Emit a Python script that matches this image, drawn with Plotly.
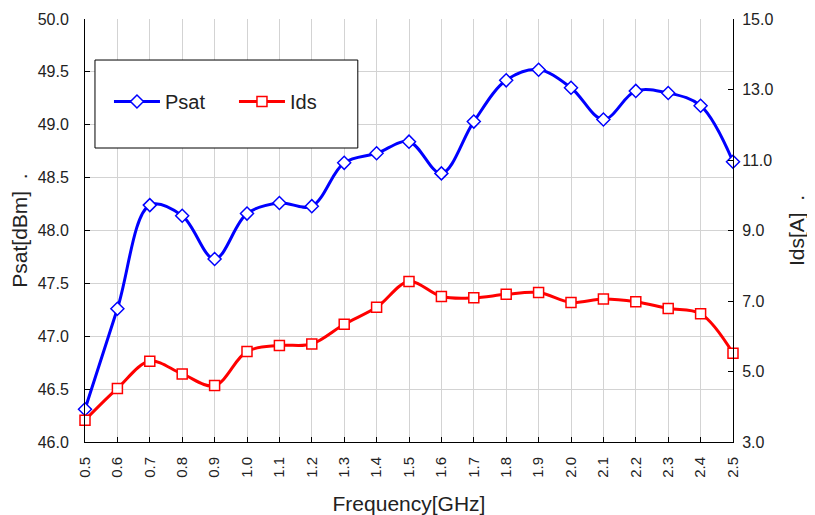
import plotly.graph_objects as go

freq = [0.5, 0.6, 0.7, 0.8, 0.9, 1.0, 1.1, 1.2, 1.3, 1.4, 1.5, 1.6, 1.7, 1.8, 1.9, 2.0, 2.1, 2.2, 2.3, 2.4, 2.5]
freq_labels = ["0.5", "0.6", "0.7", "0.8", "0.9", "1.0", "1.1", "1.2", "1.3", "1.4", "1.5",
               "1.6", "1.7", "1.8", "1.9", "2.0", "2.1", "2.2", "2.3", "2.4", "2.5"]
psat = [46.31, 47.26, 48.24, 48.14, 47.73, 48.16, 48.26, 48.23, 48.64, 48.73, 48.84,
        48.54, 49.03, 49.42, 49.52, 49.35, 49.05, 49.32, 49.30, 49.18, 48.65]
ids = [3.62, 4.52, 5.29, 4.93, 4.60, 5.57, 5.74, 5.78, 6.34, 6.82, 7.55,
       7.13, 7.09, 7.19, 7.24, 6.96, 7.06, 6.98, 6.79, 6.64, 5.52]
left_ticks = [46.0, 46.5, 47.0, 47.5, 48.0, 48.5, 49.0, 49.5, 50.0]
right_ticks = [3.0, 5.0, 7.0, 9.0, 11.0, 13.0, 15.0]

FONT = "Liberation Sans"

fig = go.Figure()
fig.add_trace(go.Scatter(
    x=freq, y=psat, name="Psat", mode="lines+markers",
    line=dict(color="#0000ff", width=3, shape="spline", smoothing=1.0),
    marker=dict(symbol="diamond", size=10, color="white", line=dict(color="#0000ff", width=1.5)),
    cliponaxis=False, yaxis="y"))
fig.add_trace(go.Scatter(
    x=freq, y=ids, name="Ids", mode="lines+markers",
    line=dict(color="#ff0000", width=3, shape="spline", smoothing=1.0),
    marker=dict(symbol="square", size=10, color="white", line=dict(color="#ff0000", width=1.5)),
    cliponaxis=False, yaxis="y2"))

fig.update_layout(
    width=807, height=507,
    margin=dict(l=77, r=82, t=11, b=73),
    paper_bgcolor="white", plot_bgcolor="white",
    font=dict(family=FONT, size=14, color="#222222"),
    showlegend=True,
    legend=dict(orientation="h", x=0.037, y=0.805, xanchor="left", yanchor="middle",
                bgcolor="rgba(0,0,0,0)", borderwidth=0, entrywidth=64, itemwidth=46,
                font=dict(size=20, family=FONT, color="#222222")),
    xaxis=dict(
        range=[0.5, 2.5], tickmode="array", tickvals=freq, ticktext=freq_labels,
        tickangle=-90, ticks="inside", ticklen=5, tickcolor="black",
        ticklabelstandoff=8, automargin=False,
        showline=True, linecolor="black", linewidth=1,
        showgrid=True, gridcolor="#d3d3d3", gridwidth=1, zeroline=False,
        tickfont=dict(size=15),
        title=dict(text="Frequency[GHz]", font=dict(size=21), standoff=19)),
    yaxis=dict(
        range=[46.0, 50.0], tickmode="array", tickvals=left_ticks,
        ticktext=[f"{v:.1f}" for v in left_ticks],
        ticks="inside", ticklen=5, tickcolor="black",
        ticklabelstandoff=12, automargin=False,
        showline=True, linecolor="black", linewidth=1,
        showgrid=True, gridcolor="#d3d3d3", gridwidth=1, zeroline=False,
        tickfont=dict(size=16),
        title=dict(text="Psat[dBm]  .", font=dict(size=21), standoff=8)),
    yaxis2=dict(
        range=[3.0, 15.0], overlaying="y", side="right", tickmode="array",
        tickvals=right_ticks, ticktext=[f"{v:.1f}" for v in right_ticks],
        ticks="inside", ticklen=5, tickcolor="black",
        ticklabelstandoff=5, automargin=False,
        showline=True, linecolor="black", linewidth=1,
        showgrid=False, zeroline=False,
        tickfont=dict(size=16),
        title=dict(text="Ids[A]  .", font=dict(size=21), standoff=16)),
    shapes=[dict(type="rect", xref="paper", yref="paper",
                 x0=0.0154, x1=0.421, y0=0.695, y1=0.903,
                 line=dict(color="black", width=1), fillcolor="white", layer="above")],
)

fig.write_html("out.html")
